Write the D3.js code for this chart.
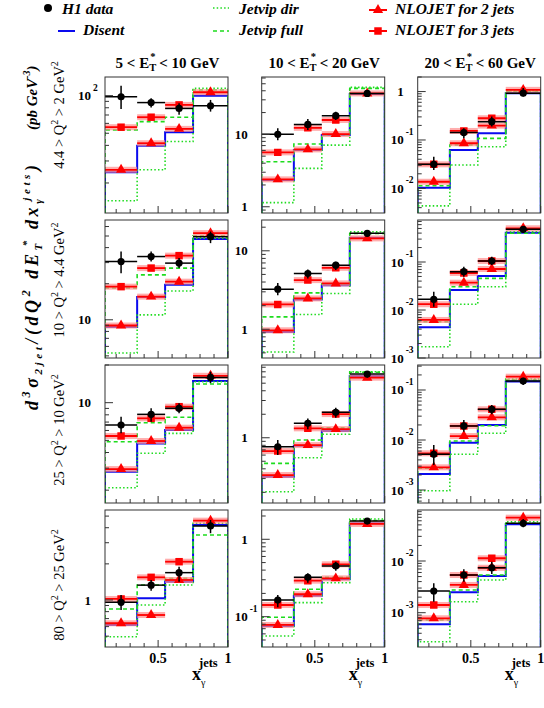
<!DOCTYPE html>
<html>
<head>
<meta charset="utf-8">
<script src="https://cdn.jsdelivr.net/npm/d3@7"></script>
<style>
  body { margin: 0; background: #fff; }
  svg text { font-family: "Liberation Serif", "Times New Roman", serif; }
</style>
</head>
<body>
<svg width="544" height="708"></svg>
<script>
// x_gamma^jets bin edges and labelled ticks
const xEdges = [0.12, 0.35, 0.55, 0.75, 1.0];
const xTickLabels = [0.5, 1];
const etBins = [["5", "10"], ["10", "20"], ["20", "60"]];
const q2Bins = [["4.4", "2"], ["10", "4.4"], ["25", "10"], ["80", "25"]];

// panels listed row by row (Q2 bin), then column (E_T bin)
const yRanges = [
  [11.5, 141], [0.82, 62], [0.0031, 2.0],
  [4.8, 68], [0.43, 24.7], [0.001, 0.75],
  [1.58, 20], [0.146, 8.55], [0.00055, 0.316],
  [0.406, 5.62], [0.0406, 2.39], [0.000217, 0.097]
];

const h1 = [
  [98, 88, 79, 83], [10.0, 13.7, 18.1, 36.8], [0.0314, 0.142, 0.239, 0.927],
  [30.6, 33.7, 29.7, 49.4], [3.24, 5.14, 6.56, 16.7], [0.0167, 0.0628, 0.105, 0.48],
  [6.63, 8.07, 9.02, 15.9], [0.767, 1.53, 2.12, 6.56], [0.00518, 0.0191, 0.0411, 0.151],
  [0.957, 1.33, 1.69, 4.14], [0.164, 0.323, 0.452, 1.72], [0.00263, 0.00536, 0.00741, 0.0536]
];
const h1Lo = [
  [78.3, 80.2, 70.2, 74.5], [8.3, 11.5, 15.8, 33.0], [0.0239, 0.108, 0.189, 0.788],
  [24.5, 30.6, 27.0, 43.6], [2.72, 4.43, 5.68, 15.1], [0.0117, 0.0494, 0.0866, 0.407],
  [5.69, 7.05, 8.22, 14.3], [0.60, 1.29, 1.80, 5.88], [0.00316, 0.0147, 0.0327, 0.126],
  [0.825, 1.195, 1.42, 3.6], [0.132, 0.275, 0.393, 1.58], [0.00163, 0.00398, 0.00561, 0.0449]
];
const h1Hi = [
  [120, 95.3, 86.9, 92.4], [12.1, 16.3, 20.5, 40.9], [0.0451, 0.175, 0.304, 1.18],
  [37.1, 37.1, 32.7, 54.5], [3.9, 5.78, 7.24, 18.4], [0.024, 0.0798, 0.129, 0.543],
  [7.73, 9.02, 9.89, 17.7], [0.935, 1.77, 2.43, 7.16], [0.0079, 0.0251, 0.0501, 0.176],
  [1.10, 1.468, 1.895, 4.64], [0.19, 0.364, 0.514, 1.87], [0.00371, 0.00692, 0.0097, 0.0649]
];
const disent = [
  [24.4, 39.8, 50.9, 100], [2.34, 6.07, 9.8, 36.1], [0.0103, 0.0621, 0.138, 0.927],
  [8.69, 15.5, 19.6, 47.3], [0.924, 2.39, 3.65, 14.7], [0.00437, 0.0261, 0.0511, 0.407],
  [2.81, 4.73, 6.05, 14.9], [0.316, 0.789, 1.22, 6.18], [0.00209, 0.00883, 0.02, 0.147],
  [0.619, 1.033, 1.42, 4.22], [0.0759, 0.187, 0.304, 1.61], [0.000597, 0.00248, 0.00513, 0.0513]
];
const jetvipDir = [
  [14.4, 25.5, 42.9, 114.6], [1.14, 3.39, 7.11, 44.6], [0.00436, 0.0304, 0.0727, 1.034],
  [5.28, 11.0, 17.4, 48.0], [0.513, 1.54, 2.86, 17.5], [0.00172, 0.0132, 0.0305, 0.428],
  [2.09, 3.94, 5.69, 14.7], [0.203, 0.554, 1.11, 7.02], [0.00097, 0.00518, 0.0136, 0.166],
  [0.494, 0.908, 1.334, 4.36], [0.0564, 0.152, 0.275, 1.83], [0.000275, 0.00163, 0.0043, 0.0575]
];
const jetvipFull = [
  [53.2, 61.9, 67.2, 111.1], [4.19, 7.35, 9.8, 43.2], [0.0113, 0.0788, 0.108, 1.0],
  [18.4, 23.7, 27.0, 50.1], [1.44, 2.91, 3.8, 16.7], [0.0057, 0.0305, 0.0457, 0.396],
  [4.88, 6.92, 7.64, 14.1], [0.47, 0.935, 1.34, 6.89], [0.00272, 0.00955, 0.0193, 0.1585],
  [0.841, 1.334, 1.516, 3.48], [0.0982, 0.226, 0.323, 1.74], [0.000723, 0.00275, 0.00536, 0.0536]
];
const nlo2 = [
  [25.5, 41.6, 54.2, 106.5], [2.39, 6.2, 10.1, 36.8], [0.0137, 0.0855, 0.198, 1.084],
  [8.96, 15.6, 20.8, 52.8], [0.97, 2.47, 3.84, 14.4], [0.0062, 0.0371, 0.0715, 0.504],
  [2.95, 4.94, 6.31, 16.4], [0.333, 0.806, 1.29, 5.88], [0.00284, 0.012, 0.0284, 0.1845],
  [0.64, 0.75, 1.468, 4.58], [0.0782, 0.195, 0.313, 1.58], [0.00078, 0.00344, 0.00741, 0.0689]
];
const nlo3 = [
  [55.9, 67.2, 84.3, null], [5.64, 12.3, 15.8, null], [0.0314, 0.1535, 0.281, null],
  [18.9, 27.0, 34.3, null], [2.07, 4.23, 6.07, null], [0.0132, 0.059, 0.105, null],
  [5.42, 7.5, 9.29, null], [0.675, 1.32, 2.01, null], [0.00542, 0.0191, 0.0411, null],
  [1.02, 1.545, 2.085, null], [0.1416, 0.292, 0.475, null], [0.00141, 0.00536, 0.0113, null]
];

const svg = d3.select('svg');
const colX = [105, 261.7, 417.7];
const rowY = [77, 220, 365, 510];
const rowH = [136, 138, 138, 137];
const panelW = 123;
const green = '#1edc1e';
const blue = '#0a0aee';
const red = '#ff0000';

const x = d3.scaleLinear().domain([xEdges[0], xEdges[4]]).range([0, panelW]);
const mids = xEdges.slice(0, 4).map((e, k) => (e + xEdges[k + 1]) / 2);
const xTicks = d3.range(2, 11).map(d => d / 10);

const tri = d3.symbol().type(d3.symbolTriangle).size(46);
const sq = d3.symbol().type(d3.symbolSquare).size(56);

for (let r = 0; r < 4; r++) {
  for (let c = 0; c < 3; c++) {
    const i = r * 3 + c;
    const h = rowH[r];
    const y = d3.scaleLog().domain(yRanges[i]).range([h, 0]);
    const g = svg.append('g').attr('transform', `translate(${colX[c]},${rowY[r]})`);

    g.append('clipPath').attr('id', 'clip' + i)
      .append('rect').attr('width', panelW).attr('height', h);
    const body = g.append('g').attr('clip-path', `url(#clip${i})`);

    const step = vals => {
      let p = `M${x(xEdges[0])},${h}`;
      vals.forEach((v, k) => { p += `V${y(v)}H${x(xEdges[k + 1])}`; });
      return p + `V${h}`;
    };

    body.append('path').attr('d', step(disent[i]))
      .attr('fill', 'none').attr('stroke', blue).attr('stroke-width', 2);
    body.append('path').attr('d', step(jetvipFull[i]))
      .attr('fill', 'none').attr('stroke', green).attr('stroke-width', 1.6)
      .attr('stroke-dasharray', '4,3');
    body.append('path').attr('d', step(jetvipDir[i]))
      .attr('fill', 'none').attr('stroke', green).attr('stroke-width', 1.6)
      .attr('stroke-dasharray', '1.5,2.2');

    // NLOJET: line across the bin with a pale band, then the marker
    [[nlo3[i], sq], [nlo2[i], tri]].forEach(([vals, sym]) => {
      vals.forEach((v, k) => {
        if (v == null) return;
        body.append('rect')
          .attr('x', x(xEdges[k])).attr('width', x(xEdges[k + 1]) - x(xEdges[k]))
          .attr('y', y(v) - 3).attr('height', 6)
          .attr('fill', '#ff8c8c').attr('opacity', 0.7);
        body.append('line')
          .attr('x1', x(xEdges[k])).attr('x2', x(xEdges[k + 1]))
          .attr('y1', y(v)).attr('y2', y(v))
          .attr('stroke', red).attr('stroke-width', 1.8);
        body.append('path').attr('d', sym())
          .attr('transform', `translate(${x(mids[k])},${y(v)})`)
          .attr('fill', red);
      });
    });

    // H1 data
    h1[i].forEach((v, k) => {
      body.append('line')
        .attr('x1', x(xEdges[k])).attr('x2', x(xEdges[k + 1]))
        .attr('y1', y(v)).attr('y2', y(v))
        .attr('stroke', '#000').attr('stroke-width', 1.5);
      body.append('line')
        .attr('x1', x(mids[k])).attr('x2', x(mids[k]))
        .attr('y1', y(h1Lo[i][k])).attr('y2', y(h1Hi[i][k]))
        .attr('stroke', '#000').attr('stroke-width', 1.5);
      body.append('circle')
        .attr('cx', x(mids[k])).attr('cy', y(v)).attr('r', 3.6)
        .attr('fill', '#000');
    });

    // axes: ticks point inwards
    y.ticks().forEach(t => {
      const lg = Math.log10(t);
      const major = Math.abs(lg - Math.round(lg)) < 1e-6;
      g.append('line')
        .attr('x1', 0).attr('x2', major ? 8 : 4)
        .attr('y1', y(t)).attr('y2', y(t))
        .attr('stroke', '#333').attr('stroke-width', 1);
      if (major) {
        const k = Math.round(lg);
        g.append('text')
          .attr('x', -14).attr('y', y(t) + 4.5)
          .attr('text-anchor', 'end')
          .attr('font-size', 13).attr('font-weight', 'bold')
          .text(k === 0 ? '1' : '10');
        if (k !== 0 && k !== 1) {
          g.append('text')
            .attr('x', -12).attr('y', y(t) - 5)
            .attr('font-size', 9.5).attr('font-weight', 'bold')
            .text(k);
        }
      }
    });
    xTicks.forEach(t => {
      const major = Math.abs(t - 0.5) < 1e-6 || Math.abs(t - 1) < 1e-6;
      g.append('line')
        .attr('x1', x(t)).attr('x2', x(t))
        .attr('y1', h).attr('y2', h - (major ? 7 : 4))
        .attr('stroke', '#333').attr('stroke-width', 1);
    });
    if (r === 3) {
      xTickLabels.forEach(t => {
        g.append('text')
          .attr('x', x(t)).attr('y', h + 16)
          .attr('text-anchor', 'middle')
          .attr('font-size', 14).attr('font-weight', 'bold')
          .text(t);
      });
    }

    g.append('rect').attr('width', panelW).attr('height', h)
      .attr('fill', 'none').attr('stroke', '#333').attr('stroke-width', 1);
  }
}

// column titles
etBins.forEach(([a, b], c) => {
  const t = svg.append('text')
    .attr('x', colX[c] + panelW / 2 + 1).attr('y', 68)
    .attr('text-anchor', 'middle')
    .attr('font-size', 15).attr('font-weight', 'bold');
  t.append('tspan').text(`${a} < E`);
  t.append('tspan').attr('font-size', 10.5).attr('dy', 3).text('T');
  t.append('tspan').attr('font-size', 10.5).attr('dx', -6).attr('dy', -11).text('*');
  t.append('tspan').attr('dy', 8).text(` < ${b} GeV`);
});

// x titles
colX.forEach(cx => {
  svg.append('text').attr('x', cx + 87).attr('y', 680)
    .attr('font-size', 18).attr('font-weight', 'bold').text('x');
  svg.append('text').attr('x', cx + 94).attr('y', 667)
    .attr('font-size', 12.5).attr('font-weight', 'bold').text('jets');
  svg.append('text').attr('x', cx + 96).attr('y', 686)
    .attr('font-size', 10).text('γ');
});

// Q2 row labels
const q2Centers = [115, 280, 430, 585];
q2Bins.forEach(([a, b], r) => {
  const t = svg.append('text')
    .attr('transform', `translate(64,${q2Centers[r]}) rotate(-90)`)
    .attr('text-anchor', 'middle')
    .attr('font-size', 14.5);
  t.append('tspan').text(`${a} > Q`);
  t.append('tspan').attr('font-size', 10).attr('dy', -6).text('2');
  t.append('tspan').attr('dy', 6).text(` > ${b} GeV`);
  t.append('tspan').attr('font-size', 10).attr('dy', -6).text('2');
});

// y title, stretched to the length it has in the reference
const yt = svg.append('text')
  .attr('transform', 'translate(38,410) rotate(-90)')
  .attr('font-size', 18).attr('font-weight', 'bold').attr('font-style', 'italic')
  .attr('textLength', 245).attr('lengthAdjust', 'spacing');
yt.append('tspan').text('d');
yt.append('tspan').attr('font-size', 12).attr('dy', -8).text('3');
yt.append('tspan').attr('dy', 8).text('σ');
yt.append('tspan').attr('font-size', 11).attr('dy', 4).text('2jet');
yt.append('tspan').attr('dy', -4).text('/(dQ');
yt.append('tspan').attr('font-size', 12).attr('dy', -8).text('2');
yt.append('tspan').attr('dy', 8).text(' dE');
yt.append('tspan').attr('font-size', 11).attr('dy', 4).text('T');
yt.append('tspan').attr('font-size', 11).attr('dx', -6).attr('dy', -12).text('*');
yt.append('tspan').attr('dy', 8).text(' dx');
yt.append('tspan').attr('font-size', 11).attr('dy', 4).text('γ');
yt.append('tspan').attr('font-size', 11).attr('dx', -5).attr('dy', -12).text('jets');
yt.append('tspan').attr('dy', 8).text(')');

const yu = svg.append('text')
  .attr('transform', 'translate(37,130) rotate(-90)')
  .attr('font-size', 15).attr('font-weight', 'bold').attr('font-style', 'italic');
yu.append('tspan').text('(pb GeV');
yu.append('tspan').attr('font-size', 10).attr('dy', -7).text('-3');
yu.append('tspan').attr('dy', 7).text(')');

// legend
const leg = svg.append('g');
const legFont = t => t.attr('font-size', 15.5).attr('font-weight', 'bold').attr('font-style', 'italic');
leg.append('circle').attr('cx', 48).attr('cy', 8).attr('r', 4).attr('fill', '#000');
legFont(leg.append('text').attr('x', 62).attr('y', 14).text('H1 data'));
leg.append('line').attr('x1', 58).attr('x2', 75).attr('y1', 31).attr('y2', 31)
  .attr('stroke', blue).attr('stroke-width', 2);
legFont(leg.append('text').attr('x', 83).attr('y', 35).text('Disent'));
leg.append('line').attr('x1', 213).attr('x2', 229).attr('y1', 8).attr('y2', 8)
  .attr('stroke', green).attr('stroke-width', 1.6).attr('stroke-dasharray', '1.5,2.2');
legFont(leg.append('text').attr('x', 239).attr('y', 14).text('Jetvip dir'));
leg.append('line').attr('x1', 213).attr('x2', 229).attr('y1', 31).attr('y2', 31)
  .attr('stroke', green).attr('stroke-width', 1.6).attr('stroke-dasharray', '4,3');
legFont(leg.append('text').attr('x', 239).attr('y', 35).text('Jetvip full'));
[[10, tri, 'NLOJET for 2 jets', 14], [31, sq, 'NLOJET for 3 jets', 35]].forEach(([ly, sym, label, ty]) => {
  leg.append('line').attr('x1', 369).attr('x2', 387).attr('y1', ly).attr('y2', ly)
    .attr('stroke', red).attr('stroke-width', 2);
  leg.append('path').attr('d', sym()).attr('transform', `translate(378,${ly})`).attr('fill', red);
  legFont(leg.append('text').attr('x', 395).attr('y', ty).text(label));
});
</script>
</body>
</html>
